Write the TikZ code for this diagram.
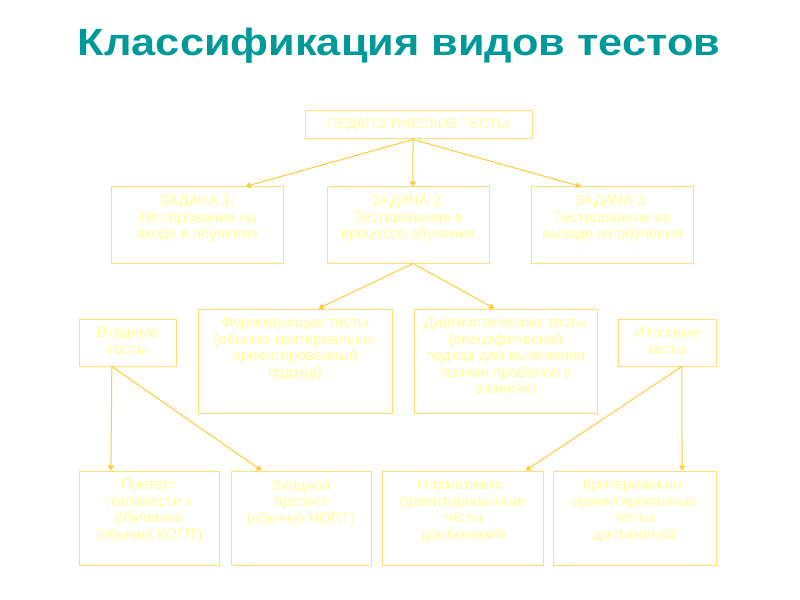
\documentclass[tikz,border=0pt]{standalone}
\usepackage{fontspec}
\setmainfont{Liberation Sans}
\usepackage{tikz}
\usetikzlibrary{arrows.meta}
\usetikzlibrary{calc}
\definecolor{teal0}{HTML}{009999}
\definecolor{boxline}{HTML}{FFDD77}
\definecolor{boxtext}{HTML}{FFFF99}
\definecolor{arrowline}{HTML}{FFCC33}
\tikzstyle{box} = [draw=boxline, line width=1bp, inner sep=0pt]
\tikzstyle{txt} = [anchor=north, yshift=-6.5bp, inner sep=2bp, align=center, text=boxtext, font=\fontsize{15bp}{16.5bp}\selectfont]
\tikzstyle{link} = [draw=arrowline, line width=1bp, -{Triangle[length=5bp,width=6bp]}]

\begin{document}
\begin{tikzpicture}[x=1bp, y=-1bp]
	\useasboundingbox[fill=white] (0,0) rectangle (800,600);
	
	\node[text=teal0, xscale=1.14, font=\fontsize{38bp}{42bp}\selectfont\bfseries] (title) at (399,46) {Классификация видов тестов};
	
	\node[box, minimum width=227bp, minimum height=28bp, text=boxtext, font=\fontsize{14bp}{16.5bp}\selectfont] (ped) at (418.5,125) {ПЕДАГОГИЧЕСКИЕ ТЕСТЫ};
	
	\node[box, minimum width=172bp, minimum height=76bp, label={[txt]north:ЗАДАЧА 1:\\Тестирование на\\входе в обучение}] (z1) at (197,225) {};
	\node[box, minimum width=162bp, minimum height=76bp, label={[txt]north:ЗАДАЧА 2:\\Тестирование в\\процессе обучения}] (z2) at (408,225) {};
	\node[box, minimum width=162bp, minimum height=76bp, label={[txt]north:ЗАДАЧА 3:\\Тестирование на\\выходе из обучения}] (z3) at (612,225) {};
	
	\node[box, minimum width=97bp, minimum height=47bp, label={[txt]north:Входные\\тесты}] (vhod) at (127.5,342.5) {};
	\node[box, minimum width=194bp, minimum height=104bp, label={[txt]north:Формирующие тесты\\(обычно критериально-\\ориентированный\\подход)}] (form) at (295,361) {};
	\node[box, minimum width=183bp, minimum height=104bp, label={[txt]north:Диагностические тесты\\(специфический\\подход для выявления\\причин пробелов в\\знаниях)}] (diag) at (505.5,361) {};
	\node[box, minimum width=98bp, minimum height=47bp, label={[txt]north:Итоговые\\тесты}] (itog) at (667,342.5) {};
	
	\node[box, minimum width=140bp, minimum height=94bp, label={[txt]north:Претест\\готовности к\\обучению\\(обычно КОПТ)}] (pre) at (149,518) {};
	\node[box, minimum width=140bp, minimum height=94bp, label={[txt]north:Входной\\претест\\(обычно НОПТ)}] (vpre) at (301,518) {};
	\node[box, minimum width=161bp, minimum height=94bp, label={[txt]north:Нормативно-\\ориентированные\\тесты\\достижений}] (norm) at (462.5,518) {};
	\node[box, minimum width=163bp, minimum height=94bp, label={[txt]north:Критериально-\\ориентированные\\тесты\\достижений}] (krit) at (634.5,518) {};
	
	% points where the arrows leave the boxes
	\coordinate (pedout) at ($(ped.south west)!0.476!(ped.south east)$);
	\coordinate (z2out) at ($(z2.south west)!0.53!(z2.south east)$);
	\coordinate (vhodout) at ($(vhod.south west)!0.34!(vhod.south east)$);
	\coordinate (itogout) at ($(itog.south west)!0.65!(itog.south east)$);
	
	\draw[link] (pedout) -- ($(z1.north west)!0.78!(z1.north east)$);
	\draw[link] (pedout) -- ($(z2.north west)!0.53!(z2.north east)$);
	\draw[link] (pedout) -- ($(z3.north west)!0.31!(z3.north east)$);
	
	\draw[link] (z2out) -- ($(form.north west)!0.62!(form.north east)$);
	\draw[link] (z2out) -- ($(diag.north west)!0.44!(diag.north east)$);
	
	\draw[link] (vhodout) -- ($(pre.north west)!0.23!(pre.north east)$);
	\draw[link] (vhodout) -- ($(vpre.north west)!0.22!(vpre.north east)$);
	\draw[link] (itogout) -- ($(norm.north west)!0.89!(norm.north east)$);
	\draw[link] (itogout) -- ($(krit.north west)!0.79!(krit.north east)$);
\end{tikzpicture}
\end{document}
